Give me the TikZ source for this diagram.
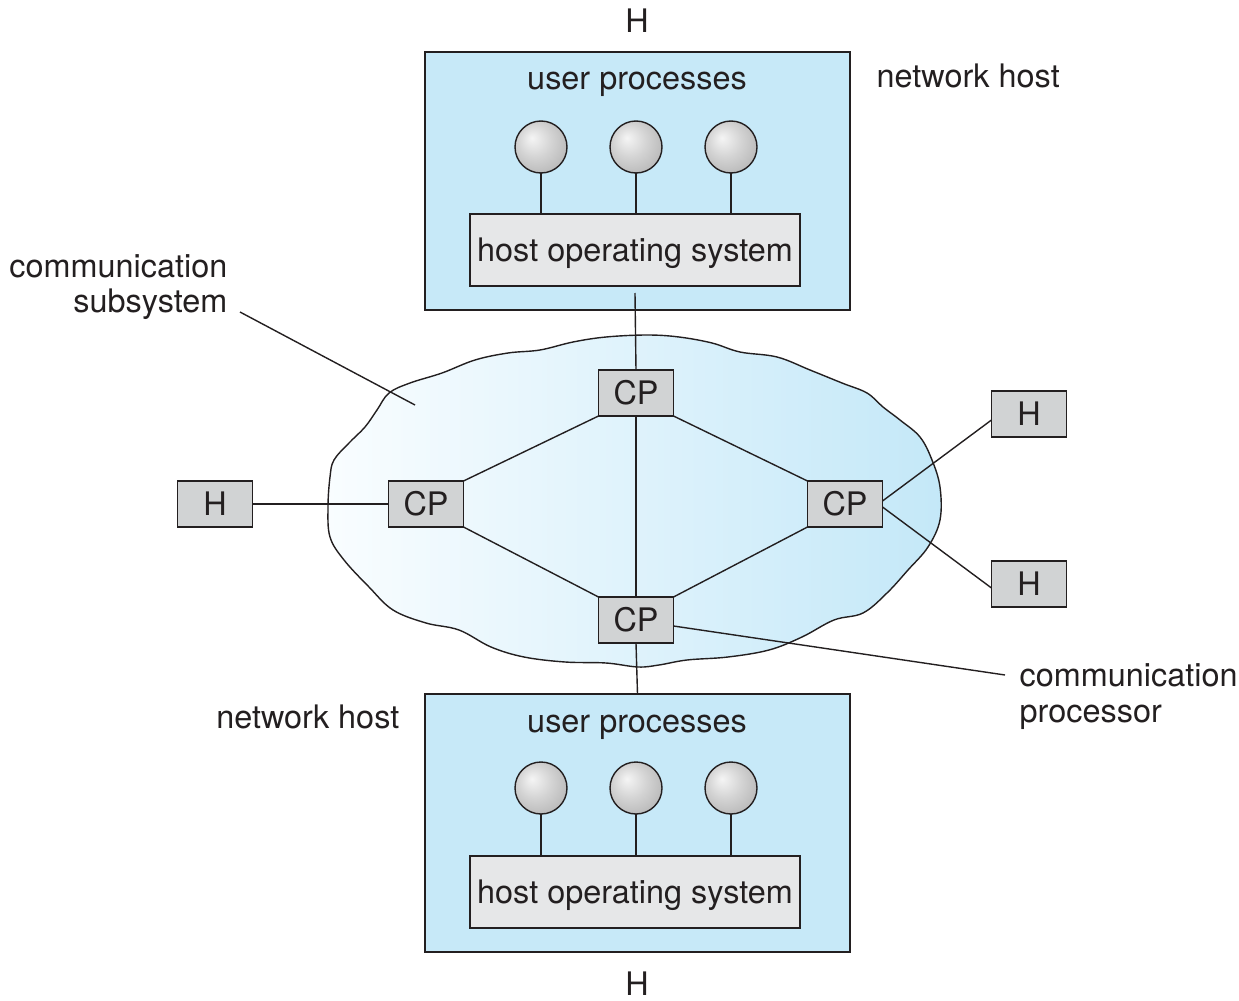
\documentclass[tikz,border=0pt]{standalone}
\usepackage{fontspec}
\setmainfont{TeX Gyre Heros}
\definecolor{hostblue}{RGB}{199,233,248}
\definecolor{osgray}{RGB}{230,231,232}
\definecolor{cpgray}{RGB}{209,211,212}
\definecolor{cloudleft}{RGB}{249,253,255}
\definecolor{cloudright}{RGB}{196,232,248}
\definecolor{ink}{RGB}{35,31,32}
\pgfdeclareradialshading{sphereshade}{\pgfqpoint{-9bp}{9bp}}{color(0bp)=(black!4); color(5bp)=(black!8); color(16bp)=(black!17); color(30bp)=(black!27); color(50bp)=(black!32)}
\begin{document}
\begin{tikzpicture}[x=0.5pt,y=-0.5pt,line width=0.7pt,draw=ink,text=ink,
  font=\fontsize{16.2}{17.5}\selectfont,
  hostbox/.style={draw,fill=hostblue,minimum width=212.5pt,minimum height=129pt,outer sep=0pt},
  osbox/.style={draw,fill=osgray,minimum width=165pt,minimum height=36pt,inner sep=0pt,outer sep=0pt,text depth=0pt},
  cpbox/.style={draw,fill=cpgray,minimum width=37.5pt,minimum height=23pt,inner sep=0pt,outer sep=0pt},
  proc/.style={circle,draw,shading=sphereshade,minimum size=26pt,inner sep=0pt,outer sep=0pt},
  lbl/.style={inner sep=0pt}]
\useasboundingbox (0,0) rectangle (1239,1001);

% communication subsystem
\shadedraw[left color=cloudleft,right color=cloudright] plot[smooth cycle,tension=0.6] coordinates {
  (330,477) (328,507) (330,537) (344,560) (369,587) (393,610) (426,623) (459,630)
  (491,647) (524,657) (565,662) (606,663) (638,667) (659,665) (687,660) (728,657)
  (769,650) (802,637) (834,620) (863,613) (887,593) (908,570) (928,547) (940,520)
  (940,487) (932,460) (920,437) (900,420) (883,407) (867,393) (842,383) (810,370)
  (777,357) (740,352) (712,343) (679,337) (647,335) (606,337) (573,342) (540,350)
  (508,353) (475,360) (442,373) (410,383) (389,393) (377,410) (365,427) (349,443)
  (334,460)};

% network hosts
\node[hostbox] (hostTop) at (637.5,181) {};
\node[hostbox] (hostBot) at (637.5,823) {};
\node[lbl] (upTop) at (637,84) {user processes};
\node[lbl] (upBot) at (637,727) {user processes};
\node[osbox] (osTop) at (635,250) {host operating system};
\node[osbox] (osBot) at (635,892) {host operating system};
\foreach \x [count=\i] in {541,636,731} {
  \node[proc] (pTop\i) at (\x,147) {};
  \node[proc] (pBot\i) at (\x,788) {};
  \draw (pTop\i) -- (pTop\i |- osTop.north);
  \draw (pBot\i) -- (pBot\i |- osBot.north);
}
\node[lbl] (hTop) at (637,21) {H};
\node[lbl,text depth=0pt] (hBot) at (637,984) {H};
\node[lbl,anchor=west] (nhTop) at (876,76) {network host};
\node[lbl,anchor=east] (nhBot) at (400,717) {network host};

% processors and hosts
\node[cpbox] (cpTop) at (636,393) {CP};
\node[cpbox] (cpLeft) at (426,504) {CP};
\node[cpbox] (cpRight) at (845,504) {CP};
\node[cpbox] (cpBot) at (636,620) {CP};
\node[cpbox] (hLeft) at (215,504) {H};
\node[cpbox] (hRightA) at (1029,414) {H};
\node[cpbox] (hRightB) at (1029,584) {H};

\draw ([yshift=-3.5pt]osTop.south) -- (cpTop.north);
\draw (cpTop) -- (cpBot);
\draw (cpBot.south) -- (hostBot.north);
\draw (cpTop.south west) -- (cpLeft.north east);
\draw (cpLeft.south east) -- (cpBot.north west);
\draw (cpTop.south east) -- (cpRight.north west);
\draw (cpRight.south west) -- (cpBot.north east);
\draw (hLeft) -- (cpLeft);
\draw ([yshift=-10pt]cpRight.north east) -- ([yshift=-3pt]hRightA.west);
\draw ([yshift=10pt]cpRight.south east) -- ([yshift=-2pt]hRightB.west);

% labels
\node[lbl,anchor=east,align=right] (subsysLbl) at (228,287) {communication\\subsystem};
\coordinate (subsysFrom) at (240,312);
\coordinate (subsysTip) at (415,405);
\draw (subsysFrom) -- (subsysTip);
\node[lbl,anchor=west,align=left,font=\fontsize{16.2}{18}\selectfont] (procLbl) at (1019,697) {communication\\processor};
\coordinate (procFrom) at (1005,675);
\draw ([yshift=-3pt]cpBot.east) -- (procFrom);
\end{tikzpicture}
\end{document}
